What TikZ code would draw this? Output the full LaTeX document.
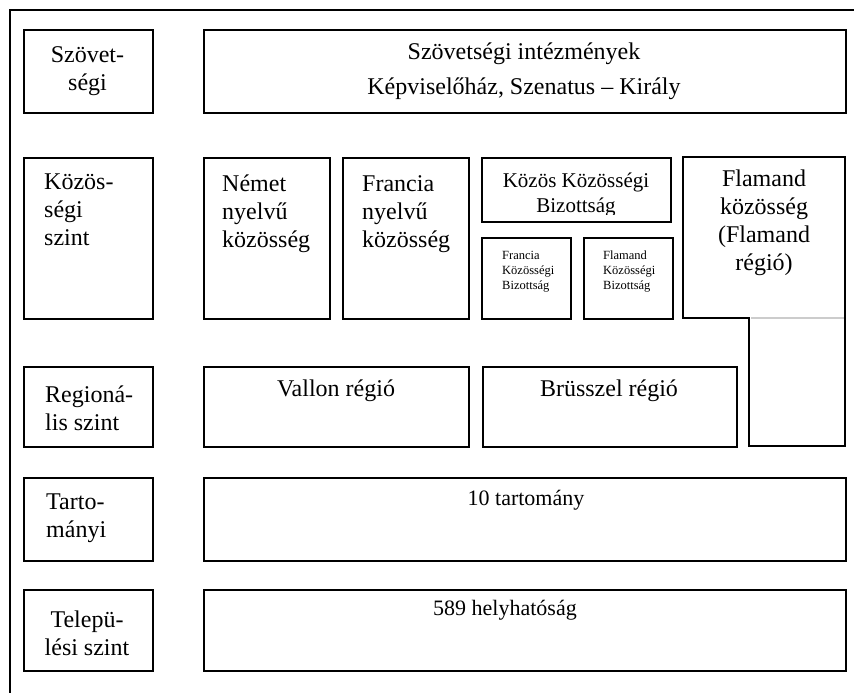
\documentclass[tikz,border=0pt]{standalone}
\usepackage{fontspec}
\setmainfont{Liberation Serif}
\usetikzlibrary{positioning}
\tikzstyle{box} = [draw, line width=1.6pt, inner sep=0pt, anchor=north west]
\tikzstyle{boxline} = [line width=1.6pt, line join=miter]
\tikzstyle{txt} = [font=\fontsize{24}{28}\selectfont, inner sep=0pt, align=left]
\tikzstyle{smalltxt} = [font=\fontsize{12.5}{15}\selectfont, inner sep=0pt, align=left]

\begin{document}
\begin{tikzpicture}[x=1pt, y=-1pt]
  \useasboundingbox (0,0) rectangle (854,693);
  \draw[line width=1.3pt] (10,693) -- (10,10) -- (854,10);

  % szovetsegi szint
  \node[box, minimum width=129, minimum height=83] (szovlvl) at (23,29) {};
  \node[txt, align=center] (szovlvltxt) at (87.5,71) {Szövet-\\ségi};
  \node[box, minimum width=642, minimum height=83] (szov) at (203,29) {};
  \node[txt, align=center, font=\fontsize{24}{35}\selectfont] (szovtxt) at (524,71)
    {Szövetségi intézmények\\Képviselőház, Szenatus -- Király};

  % kozossegi szint
  \node[box, minimum width=129, minimum height=161] (kozlvl) at (23,157) {};
  \node[txt, anchor=west] (kozlvltxt) at (44,210) {Közös-\\ségi\\szint};
  \node[box, minimum width=126, minimum height=161] (nemet) at (203,157) {};
  \node[txt, anchor=west] (nemettxt) at (222,214) {Német\\nyelvű\\közösség};
  \node[box, minimum width=126, minimum height=161] (francia) at (342,157) {};
  \node[txt, anchor=west] (franciatxt) at (362,214) {Francia\\nyelvű\\közösség};
  \node[box, minimum width=189, minimum height=64] (kkb) at (481,157) {};
  \begin{scope}
    \clip (481,157) rectangle (670,214);
    \node[txt, align=center, font=\fontsize{21}{25}\selectfont] (kkbtxt) at (576,195)
      {Közös Közösségi\\Bizottság};
  \end{scope}
  \node[box, minimum width=89, minimum height=81] (frkb) at (481,237) {};
  \node[smalltxt, anchor=west] (frkbtxt) at (502,272) {Francia\\Közösségi\\Bizottság};
  \node[box, minimum width=89, minimum height=81] (flkb) at (583,237) {};
  \node[smalltxt, anchor=west] (flkbtxt) at (603,272) {Flamand\\Közösségi\\Bizottság};
  \draw[boxline] (683,157) -- (845,157) -- (845,446) -- (749,446)
    -- (749,318) -- (683,318) -- cycle;
  \draw[gray!40, line width=1.4pt] (751,318) -- (844,318);
  \node[txt, align=center] (flamtxt) at (764,223) {Flamand\\közösség\\(Flamand\\régió)};

  % regionalis szint
  \node[box, minimum width=129, minimum height=80] (reglvl) at (23,366) {};
  \node[txt, anchor=west] (reglvltxt) at (45,408) {Regioná-\\lis szint};
  \node[box, minimum width=265, minimum height=80] (vallon) at (203,366) {};
  \node[txt] (vallontxt) at (336,391) {Vallon régió};
  \node[box, minimum width=254, minimum height=80] (brussz) at (482,366) {};
  \node[txt] (brussztxt) at (609,391) {Brüsszel régió};

  % tartomanyi szint
  \node[box, minimum width=129, minimum height=83] (tartlvl) at (23,477) {};
  \node[txt, anchor=west] (tartlvltxt) at (46,518) {Tarto-\\mányi};
  \node[box, minimum width=642, minimum height=83] (tart) at (203,477) {};
  \node[txt, font=\fontsize{22}{26}\selectfont] (tarttxt) at (526,500) {10 tartomány};

  % telepulesi szint
  \node[box, minimum width=129, minimum height=81] (telpllvl) at (23,589) {};
  \node[txt, align=center] (telpllvltxt) at (87,633) {Telepü-\\lési szint};
  \node[box, minimum width=642, minimum height=81] (telpl) at (203,589) {};
  \node[txt, font=\fontsize{22}{26}\selectfont] (telpltxt) at (505,610) {589 helyhatóság};
\end{tikzpicture}
\end{document}
